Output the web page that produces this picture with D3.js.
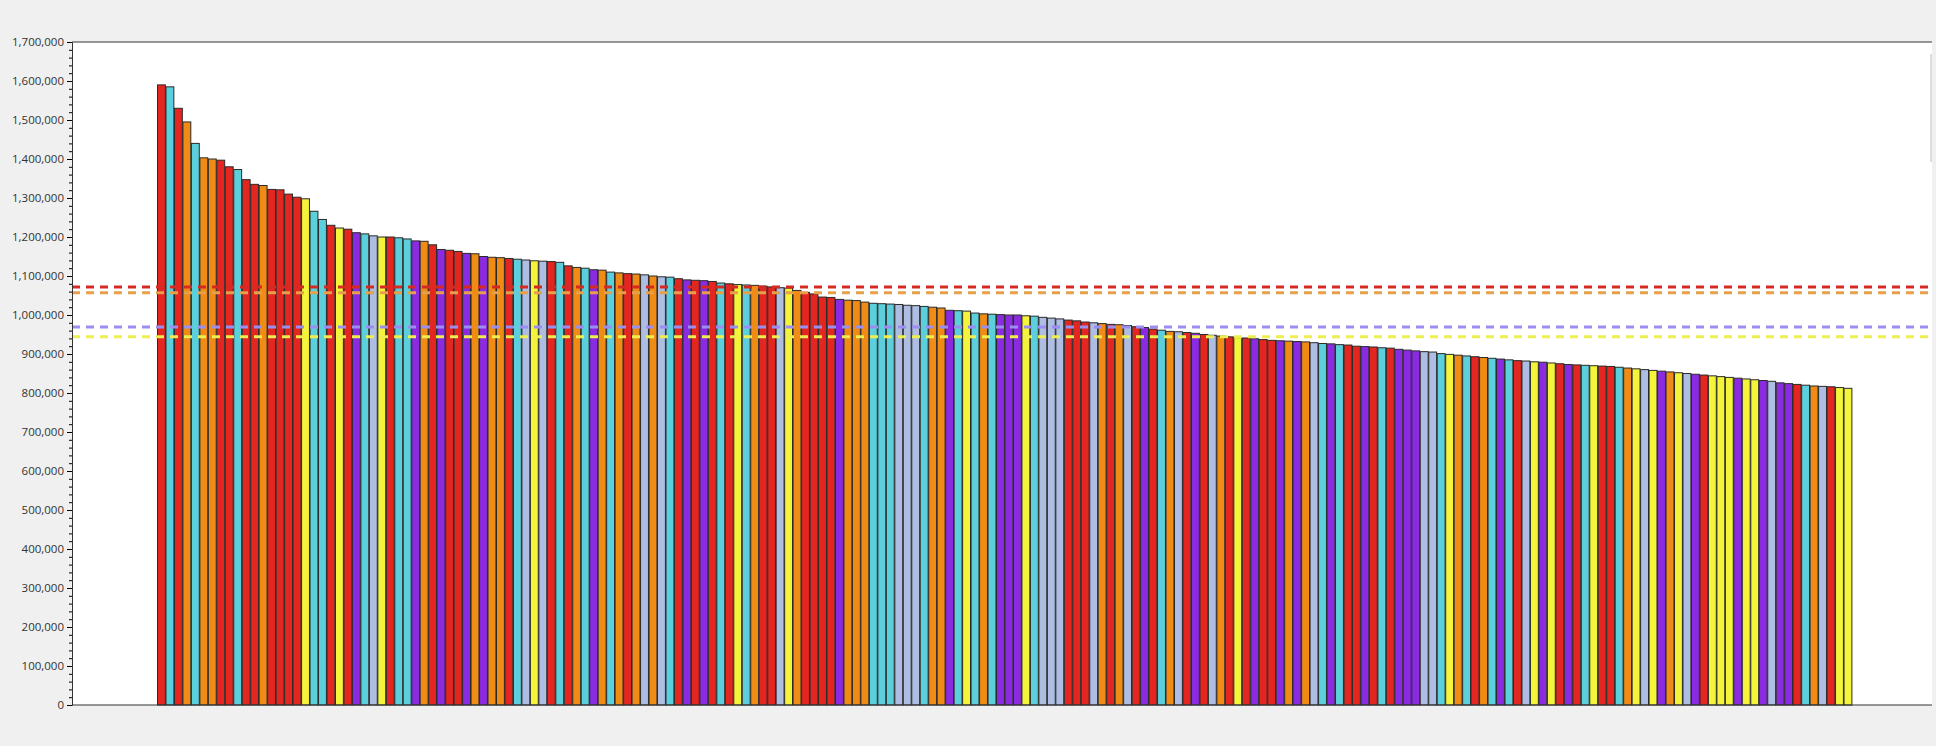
<!DOCTYPE html>
<html><head><meta charset="utf-8">
<script src="https://cdn.jsdelivr.net/npm/d3@7"></script>
<style>body{margin:0;background:#f0f0f0;}svg{display:block;}</style>
</head><body><svg id="c" width="1936" height="746"></svg>
<script>
const colorKeys = ["r","c","r","o","c","o","o","r","r","c","r","r","o","r","r","r","r","y","c","c","r","y","r","p","c","l","y","r","c","c","p","o","r","p","r","r","p","o","p","o",
"o","r","c","l","y","l","r","c","r","o","c","p","o","c","o","r","o","l","o","l","c","r","p","r","p","r","c",
"r","y","c","o","r","r","l","y","o","r","r","r","r","p","o","o","o","c","c","c","l","l","l","c","o","o","p","c","y","c","o",
"c","p","p","p","y","c","l","l","l","r","r","r","l","o","r","o","l","r","p","r","c","o","l","r","p","r","l","o","r","y",
"r","p","r","r","p","o","p","o","l","c","p","c","r","r","p","r","c","r","p","p","p","l","l","c","y","o","c","r","o","c","p",
"c","r","l","y","p","y","r","p","r","c","y","r","r","c","o","y","l","y","p","o","y","l","p","r","y","y","y","p","y","y","p","l","p","p","r","c","o","l","r","y","y"];
const values = [1590,1585,1530,1495,1440,1403,1400,1397,1380,1373,1347,1335,1332,1322,1321,1310,1302,1298,1266,1245,1230,1223,1220,1211,1208,1203,1200,1200,1198,1195,1190,1189,1180,1168,1166,1163,1158,1157,1150,1148,
1147,1145,1143,1141,1139,1138,1137,1135,1126,1122,1120,1116,1115,1110,1108,1106,1105,1103,1100,1098,1097,1093,1090,1089,1088,1086,1082,
1080,1078,1077,1076,1074,1072,1070,1069,1063,1058,1054,1046,1045,1040,1038,1037,1033,1030,1029,1028,1027,1025,1024,1022,1020,1018,1012,1011,1010,1005,1003,
1002,1001,1000,1000,998,997,994,992,990,987,985,982,980,978,976,975,973,970,968,964,961,958,957,955,953,950,948,946,944,942,
941,939,937,935,934,933,932,931,929,927,926,924,923,920,919,918,916,915,912,910,908,906,905,901,899,897,895,893,891,889,887,
885,883,882,880,879,877,875,873,872,871,870,869,868,866,864,862,860,858,856,854,852,850,848,846,844,842,840,838,836,834,832,830,826,824,822,820,818,817,816,814,812].map(v=>v*1000);
const palette = {r:"#e3261f",c:"#5ccfdc",o:"#f08c16",y:"#f4f43a",p:"#8a2be2",l:"#aebde2"};
const refLines = [1072000,1057000,969000,944000];
const refColors = ["#d42a22","#e6a04a","#9a8ff0","#eeee50"];
const yTicks = d3.range(0,1700001,100000);

const svg = d3.select("#c");
const L=72,R=1932,T=42,B=705;
svg.append("rect").attr("x",L).attr("y",T).attr("width",R-L).attr("height",B-T).attr("fill","#fff");
const y = d3.scaleLinear().domain([0,1700000]).range([B,T]);
const x = d3.scaleBand().domain(d3.range(values.length)).range([157,1852]).paddingInner(0);
svg.append("g").selectAll("rect").data(values).join("rect")
  .attr("x",(d,i)=>x(i)+0.5).attr("y",d=>y(d)).attr("width",x.bandwidth()-0.6).attr("height",d=>B-y(d))
  .attr("fill",(d,i)=>palette[colorKeys[i]]).attr("stroke","#2a2a2a").attr("stroke-width",1);
svg.append("g").selectAll("line").data(refLines).join("line")
  .attr("x1",L).attr("x2",R-4).attr("y1",d=>y(d)).attr("y2",d=>y(d))
  .attr("stroke",(d,i)=>refColors[i]).attr("stroke-width",3).attr("stroke-dasharray","8,6");
const ax = svg.append("g").attr("transform",`translate(${L},0)`)
  .call(d3.axisLeft(y).tickValues(yTicks).tickFormat(d3.format(",")).tickSize(5));
ax.selectAll("text").attr("font-family","Open Sans").attr("font-size","11.5px").attr("fill","#333");
ax.select(".domain").attr("stroke","#333");
svg.append("g").attr("transform",`translate(${L},0)`)
  .call(d3.axisLeft(y).tickValues(d3.range(0,1700001,20000)).tickFormat("").tickSize(3))
  .select(".domain").remove();
svg.append("line").attr("x1",L).attr("x2",R).attr("y1",T).attr("y2",T).attr("stroke","#333");
svg.append("line").attr("x1",L).attr("x2",R).attr("y1",B).attr("y2",B).attr("stroke","#333");
svg.append("line").attr("x1",R-1).attr("x2",R-1).attr("y1",T+12).attr("y2",T+120).attr("stroke","#ddd").attr("stroke-width",2);
</script></body></html>
